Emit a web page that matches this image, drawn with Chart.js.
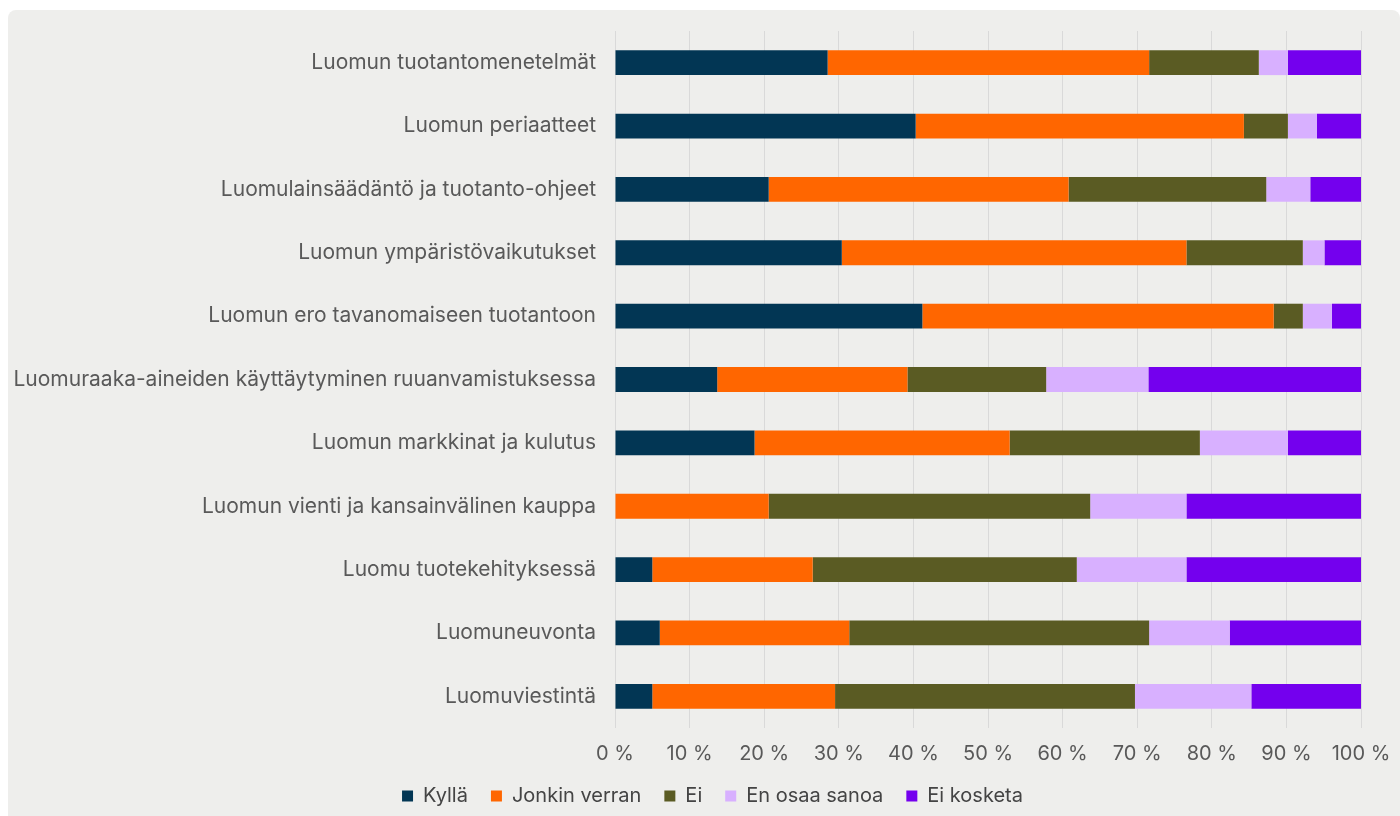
<!DOCTYPE html>
<html>
<head>
<meta charset="utf-8">
<script src="https://cdn.jsdelivr.net/npm/chart.js@4/dist/chart.umd.min.js"></script>
<style>
  html, body { margin: 0; padding: 0; background: #ffffff; }
  #panel {
    position: absolute; left: 8px; top: 10px; width: 1392px; height: 806px;
    background: #eeeeec; border-radius: 8px 8px 0 0;
  }
</style>
</head>
<body>
<div id="panel"><canvas id="chart"></canvas></div>
<script>
// categories (top to bottom)
var categories = [
  "Luomun tuotantomenetelmät",
  "Luomun periaatteet",
  "Luomulainsäädäntö ja tuotanto-ohjeet",
  "Luomun ympäristövaikutukset",
  "Luomun ero tavanomaiseen tuotantoon",
  "Luomuraaka-aineiden käyttäytyminen ruuanvamistuksessa",
  "Luomun markkinat ja kulutus",
  "Luomun vienti ja kansainvälinen kauppa",
  "Luomu tuotekehityksessä",
  "Luomuneuvonta",
  "Luomuviestintä"
];

// shares in percent
var kylla     = [28.5, 40.3, 20.6, 30.4, 41.2, 13.7, 18.7, 0.0,  5.0,  6.0,  5.0];
var jonkin    = [43.1, 44.0, 40.2, 46.2, 47.1, 25.5, 34.2, 20.6, 21.5, 25.4, 24.5];
var ei        = [14.7,  5.9, 26.5, 15.6,  3.9, 18.6, 25.5, 43.1, 35.4, 40.2, 40.2];
var enOsaa    = [ 3.9,  3.9,  5.9,  2.9,  3.9, 13.7, 11.8, 12.9, 14.7, 10.8, 15.6];
var eiKosketa = [ 9.8,  5.9,  6.8,  4.9,  3.9, 28.5,  9.8, 23.4, 23.4, 17.6, 14.7];

var seriesNames = ["Kyllä", "Jonkin verran", "Ei", "En osaa sanoa", "Ei kosketa"];
var seriesColors = ["#023654", "#ff6600", "#5a5b23", "#d8b0ff", "#7400ee"];
var xTicks = [0, 10, 20, 30, 40, 50, 60, 70, 80, 90, 100];

var textColor = "#595959";
var fontFamily = "Inter, 'Noto Sans', sans-serif";

var seriesData = [kylla, jonkin, ei, enOsaa, eiKosketa];
var datasets = seriesNames.map(function (name, i) {
  return {
    label: name,
    data: seriesData[i],
    backgroundColor: seriesColors[i],
    borderWidth: 0,
    barPercentage: 0.8,
    categoryPercentage: 0.49
  };
});

// legend sits a bit right of the canvas centre in the original
var legendShift = {
  id: "legendShift",
  afterLayout: function (chart) { chart.legend.left += 56; }
};

new Chart(document.getElementById("chart"), {
  type: "bar",
  data: { labels: categories, datasets: datasets },
  plugins: [legendShift],
  options: {
    indexAxis: "y",
    responsive: true,
    maintainAspectRatio: false,
    animation: false,
    layout: { padding: { top: 21, right: 39, bottom: 0, left: 0 } },
    plugins: {
      tooltip: { enabled: false },
      legend: {
        position: "bottom",
        labels: {
          boxWidth: 11,
          boxHeight: 11,
          padding: 23,
          color: "#444444",
          font: { family: fontFamily, size: 20 }
        }
      }
    },
    scales: {
      x: {
        stacked: true,
        min: 0,
        max: 100,
        afterBuildTicks: function (scale) {
          scale.ticks = xTicks.map(function (v) { return { value: v }; });
        },
        afterFit: function (scale) {
          scale.height = 35;
          scale.paddingLeft = 0;
          scale.paddingRight = 0;
        },
        grid: { color: "#d9d9d9", lineWidth: 1, drawTicks: false },
        border: { display: false },
        ticks: {
          color: textColor,
          padding: 14,
          font: { family: fontFamily, size: 20 },
          callback: function (v) { return v + " %"; }
        }
      },
      y: {
        stacked: true,
        grid: { display: false, drawTicks: false },
        border: { display: false },
        afterFit: function (scale) {
          scale.width = 607;
          scale.paddingTop = 0;
          scale.paddingBottom = 0;
        },
        ticks: {
          color: textColor,
          padding: 19,
          font: { family: fontFamily, size: 21 }
        }
      }
    }
  }
});
</script>
</body>
</html>
